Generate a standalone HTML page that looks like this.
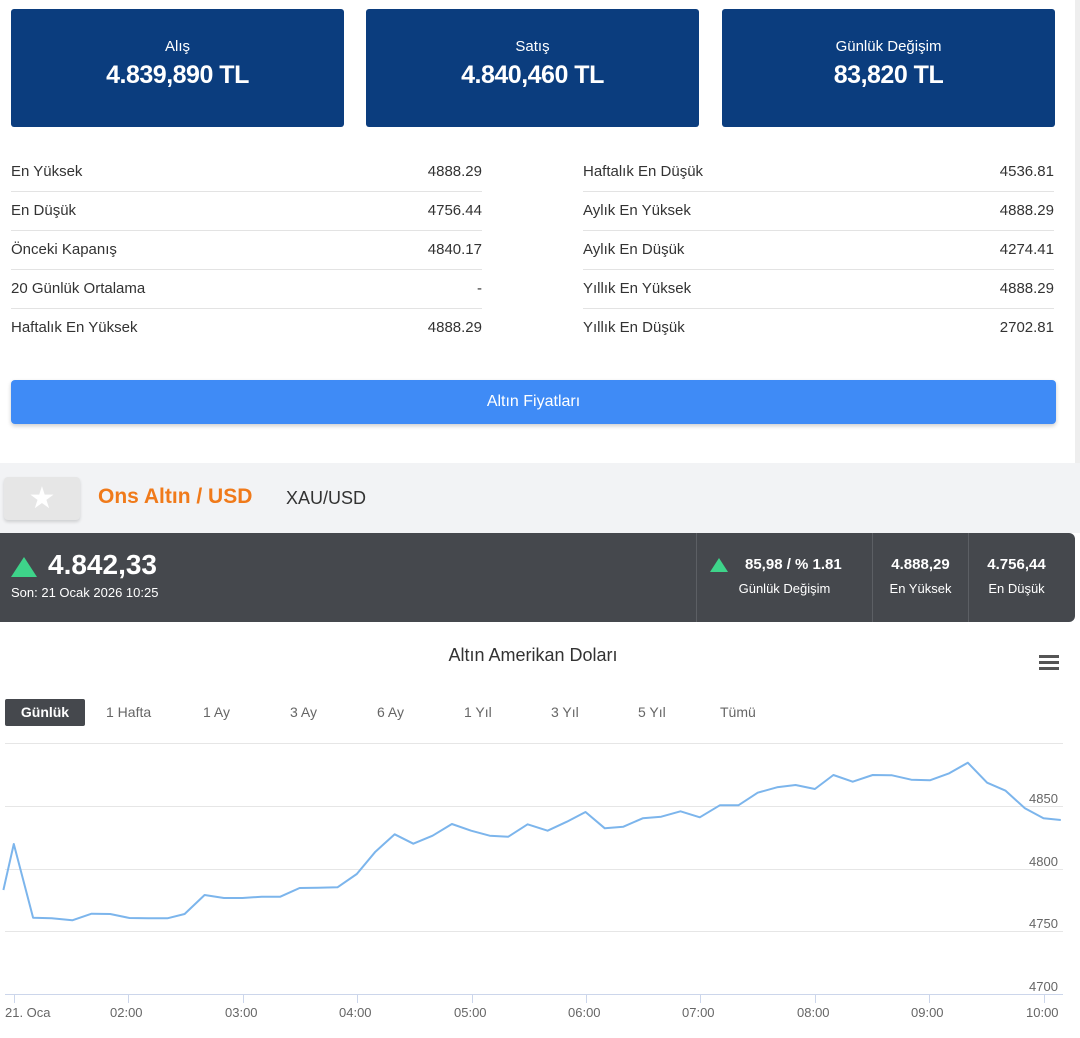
<!DOCTYPE html>
<html><head><meta charset="utf-8"><style>
body{margin:0;width:1080px;height:1038px;background:#fff;font-family:"Liberation Sans",sans-serif;position:relative;overflow:hidden;color:#333}
.a{position:absolute}
.box{position:absolute;top:9px;height:118px;width:333px;background:#0b3d7e;border-radius:3px;color:#fff;text-align:center}
.box .l{margin-top:29px;font-size:15px}
.box .v{margin-top:6px;font-size:25px;font-weight:bold;letter-spacing:-0.5px}
.row{position:absolute;height:39px;font-size:15px;line-height:39px;border-bottom:1px solid #e3e3e3}
.row span{float:right}
.rg{position:absolute;top:704px;font-size:14px;color:#666}
.t{position:absolute;font-size:13px;color:#666}
</style></head><body>
<div class="box" style="left:11px"><div class="l">Alış</div><div class="v">4.839,890 TL</div></div>
<div class="box" style="left:366px"><div class="l">Satış</div><div class="v">4.840,460 TL</div></div>
<div class="box" style="left:722px"><div class="l">Günlük Değişim</div><div class="v">83,820 TL</div></div>

<div class="row" style="left:11px;width:471px;top:152px">En Yüksek<span>4888.29</span></div>
<div class="row" style="left:11px;width:471px;top:191px">En Düşük<span>4756.44</span></div>
<div class="row" style="left:11px;width:471px;top:230px">Önceki Kapanış<span>4840.17</span></div>
<div class="row" style="left:11px;width:471px;top:269px">20 Günlük Ortalama<span>-</span></div>
<div class="row" style="left:11px;width:471px;top:308px;border:none">Haftalık En Yüksek<span>4888.29</span></div>
<div class="row" style="left:583px;width:471px;top:152px">Haftalık En Düşük<span>4536.81</span></div>
<div class="row" style="left:583px;width:471px;top:191px">Aylık En Yüksek<span>4888.29</span></div>
<div class="row" style="left:583px;width:471px;top:230px">Aylık En Düşük<span>4274.41</span></div>
<div class="row" style="left:583px;width:471px;top:269px">Yıllık En Yüksek<span>4888.29</span></div>
<div class="row" style="left:583px;width:471px;top:308px;border:none">Yıllık En Düşük<span>2702.81</span></div>

<div class="a" style="left:11px;top:380px;width:1045px;height:44px;background:#3f8bf6;border-radius:4px;color:#fff;text-align:center;line-height:44px;font-size:16px;box-shadow:0 2px 4px rgba(0,0,0,.2)">Altın Fiyatları</div>
<div class="a" style="left:1075px;top:0;width:5px;height:463px;background:#eee"></div>

<div class="a" style="left:0;top:463px;width:1080px;height:70px;background:#f2f3f5"></div>
<div class="a" style="left:4px;top:477px;width:76px;height:43px;background:#e6e6e6;border-radius:4px;box-shadow:0 2px 3px rgba(0,0,0,.15);color:#fff;font-size:30px;text-align:center;line-height:43px">★</div>
<div class="a" style="left:98px;top:485px;font-size:21px;font-weight:bold;color:#f07a1a">Ons Altın / USD</div>
<div class="a" style="left:286px;top:488px;font-size:18px;color:#333">XAU/USD</div>

<div class="a" style="left:0;top:533px;width:1075px;height:89px;background:#45484d;border-radius:0 6px 6px 0"></div>
<div class="a" style="left:696px;top:533px;width:1px;height:89px;background:#5c5f64"></div>
<div class="a" style="left:872px;top:533px;width:1px;height:89px;background:#5c5f64"></div>
<div class="a" style="left:968px;top:533px;width:1px;height:89px;background:#5c5f64"></div>
<div class="a" style="left:11px;top:557px;width:0;height:0;border-left:13px solid transparent;border-right:13px solid transparent;border-bottom:20px solid #3ed48a"></div>
<div class="a" style="left:48px;top:549px;font-size:28px;font-weight:bold;color:#fff">4.842,33</div>
<div class="a" style="left:11px;top:585px;font-size:13px;color:#fff">Son: 21 Ocak 2026 10:25</div>
<div class="a" style="left:710px;top:558px;width:0;height:0;border-left:9px solid transparent;border-right:9px solid transparent;border-bottom:14px solid #3ed48a"></div>
<div class="a" style="left:745px;top:556px;font-size:15px;font-weight:bold;color:#fff">85,98 / % 1.81</div>
<div class="a" style="left:697px;top:581px;width:175px;text-align:center;font-size:13px;color:#fff">Günlük Değişim</div>
<div class="a" style="left:873px;top:556px;width:95px;text-align:center;font-size:15px;font-weight:bold;color:#fff">4.888,29</div>
<div class="a" style="left:873px;top:581px;width:95px;text-align:center;font-size:13px;color:#fff">En Yüksek</div>
<div class="a" style="left:969px;top:556px;width:95px;text-align:center;font-size:15px;font-weight:bold;color:#fff">4.756,44</div>
<div class="a" style="left:969px;top:581px;width:95px;text-align:center;font-size:13px;color:#fff">En Düşük</div>

<div class="a" style="left:0;top:645px;width:1066px;text-align:center;font-size:18px;color:#333">Altın Amerikan Doları</div>
<div class="a" style="left:1039px;top:655px;width:20px;height:3px;background:#555;box-shadow:0 6px 0 #555,0 12px 0 #555"></div>
<div class="a" style="left:5px;top:699px;width:80px;height:27px;background:#45484d;border-radius:2px;color:#fff;font-weight:bold;font-size:14px;text-align:center;line-height:27px">Günlük</div>
<div class="rg" style="left:106px">1 Hafta</div><div class="rg" style="left:203px">1 Ay</div><div class="rg" style="left:290px">3 Ay</div><div class="rg" style="left:377px">6 Ay</div><div class="rg" style="left:464px">1 Yıl</div><div class="rg" style="left:551px">3 Yıl</div><div class="rg" style="left:638px">5 Yıl</div><div class="rg" style="left:720px">Tümü</div>

<svg class="a" style="left:0;top:0" width="1080" height="1038" id="s">
<g stroke="#e6e6e6" stroke-width="1">
<line x1="5" x2="1063" y1="743.5" y2="743.5"/><line x1="5" x2="1063" y1="806.5" y2="806.5"/><line x1="5" x2="1063" y1="869.5" y2="869.5"/><line x1="5" x2="1063" y1="931.5" y2="931.5"/></g>
<line x1="5" x2="1063" y1="994.5" y2="994.5" stroke="#ccd6eb"/>
<g stroke="#ccd6eb"><line x1="14.5" x2="14.5" y1="995" y2="1003"/><line x1="128.5" x2="128.5" y1="995" y2="1003"/><line x1="243.5" x2="243.5" y1="995" y2="1003"/><line x1="357.5" x2="357.5" y1="995" y2="1003"/><line x1="472.5" x2="472.5" y1="995" y2="1003"/><line x1="586.5" x2="586.5" y1="995" y2="1003"/><line x1="700.5" x2="700.5" y1="995" y2="1003"/><line x1="815.5" x2="815.5" y1="995" y2="1003"/><line x1="929.5" x2="929.5" y1="995" y2="1003"/><line x1="1044.5" x2="1044.5" y1="995" y2="1003"/></g>
<polyline id="p" fill="none" stroke="#7cb5ec" stroke-width="2" stroke-linejoin="round"/>
</svg>
<div class="t" style="left:1029px;top:791px">4850</div><div class="t" style="left:1029px;top:854px">4800</div><div class="t" style="left:1029px;top:916px">4750</div><div class="t" style="left:1029px;top:979px">4700</div>
<div class="t" style="left:5px;top:1005px">21. Oca</div>
<div class="t" style="left:110px;top:1005px">02:00</div><div class="t" style="left:225px;top:1005px">03:00</div><div class="t" style="left:339px;top:1005px">04:00</div><div class="t" style="left:454px;top:1005px">05:00</div><div class="t" style="left:568px;top:1005px">06:00</div><div class="t" style="left:682px;top:1005px">07:00</div><div class="t" style="left:797px;top:1005px">08:00</div><div class="t" style="left:911px;top:1005px">09:00</div><div class="t" style="left:1026px;top:1005px">10:00</div>
<script>
var z=[[5,450],[20,312],[48,533],[75,535],[105,541],[133,521],[160,522],[188,534],[215,535],[243,535],[268,522],[297,465],[325,474],[352,474],[380,470],[407,470],[435,444],[462,443],[490,442],[518,402],[545,335],[573,283],[600,311],[628,287],[656,252],[684,272],[711,287],[738,290],[766,253],[795,272],[823,245],[850,216],[878,265],[905,260],[933,235],[960,230],[988,214],[1016,232],[1045,196],[1072,196],[1100,158],[1128,142],[1155,135],[1183,147],[1210,105],[1238,125],[1267,105],[1295,106],[1323,119],[1350,121],[1378,100],[1405,68],[1433,128],[1460,152],[1488,205],[1515,235],[1540,240]];
document.getElementById('p').setAttribute('points',z.map(function(q){return (q[0]*0.6888).toFixed(1)+','+(q[1]/3+740).toFixed(1)}).join(' '));
</script>
</body></html>
